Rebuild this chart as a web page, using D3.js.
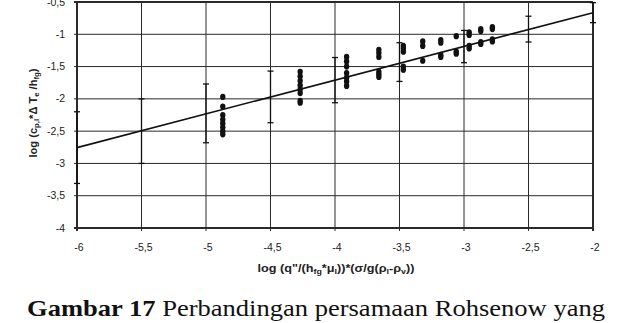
<!DOCTYPE html>
<html lang="id">
<head>
  <meta charset="UTF-8">
  <title>Gambar 17 Rohsenow</title>
  <script src="https://cdn.jsdelivr.net/npm/d3@7"></script>
  <style>
    body { margin: 0; background: #fff; }
    svg { display: block; }
    .tick-label { font-family: "Liberation Sans", Arial, sans-serif; font-size: 10.5px; fill: #222; }
    .axis-title { font-family: "Liberation Sans", Arial, sans-serif; font-size: 10px; font-weight: bold; fill: #222; }
    .caption { font-family: "Liberation Serif", "Times New Roman", serif; font-size: 23px; fill: #111; }
  </style>
</head>
<body>
  <svg width="635" height="323"></svg>
  <script>
    // data
    var xTicks = [-6, -5.5, -5, -4.5, -4, -3.5, -3, -2.5, -2];
    var xTickLabels = ["-6", "-5,5", "-5", "-4,5", "-4", "-3,5", "-3", "-2,5", "-2"];
    var yTicks = [-4, -3.5, -3, -2.5, -2, -1.5, -1, -0.5];
    var yTickLabels = ["-4", "-3,5", "-3", "-2,5", "-2", "-1,5", "-1", "-0,5"];

    // Rohsenow correlation line
    var lineX = [-6, -2];
    var lineY = [-2.755, -0.665];

    // error bars on the correlation
    var errX = [-6, -5.5, -5, -4.5, -4, -3.5, -3, -2.5, -2];
    var errHigh = [-2.2, -2.0, -1.77, -1.57, -1.36, -1.13, -0.94, -0.72, -0.51];
    var errLow = [-3.31, -3.0, -2.68, -2.37, -2.06, -1.73, -1.44, -1.12, -0.82];

    // measured points, one column per x
    var colX = [-4.87, -4.27, -3.91, -3.66, -3.47, -3.32, -3.18, -3.06, -2.96, -2.87, -2.78];
    var colY = [
      [-1.97, -2.12, -2.25, -2.32, -2.38, -2.44, -2.5, -2.55],
      [-1.58, -1.65, -1.72, -1.79, -1.85, -1.91, -2.03, -2.06],
      [-1.35, -1.42, -1.5, -1.6, -1.67, -1.73, -1.8],
      [-1.24, -1.29, -1.35, -1.58, -1.62, -1.66],
      [-1.18, -1.22, -1.27, -1.5, -1.55],
      [-1.11, -1.18, -1.41],
      [-1.09, -1.13, -1.32, -1.35],
      [-1.03, -1.27, -1.3],
      [-0.97, -1.01, -1.18, -1.22],
      [-0.92, -0.95, -1.12, -1.15],
      [-0.89, -0.92, -1.08, -1.11]
    ];

    var svg = d3.select("svg");
    var plotLeft = 77, plotRight = 593, plotTop = 2, plotBottom = 228;

    var x = d3.scaleLinear().domain([-6, -2]).range([plotLeft, plotRight]);
    var y = d3.scaleLinear().domain([-4, -0.5]).range([plotBottom, plotTop]);

    // grid
    svg.append("g").selectAll("line")
      .data(yTicks)
      .enter().append("line")
      .attr("x1", plotLeft - 3).attr("x2", plotRight)
      .attr("y1", function (d) { return y(d); })
      .attr("y2", function (d) { return y(d); })
      .attr("stroke", "#2a2a2a")
      .attr("stroke-width", function (d) { return (d === -4 || d === -0.5) ? 2 : 1; });

    svg.append("g").selectAll("line")
      .data(xTicks)
      .enter().append("line")
      .attr("x1", function (d) { return x(d); })
      .attr("x2", function (d) { return x(d); })
      .attr("y1", plotTop).attr("y2", plotBottom + 3)
      .attr("stroke", "#2a2a2a")
      .attr("stroke-width", function (d) { return (d === -6 || d === -2) ? 2 : 1; });

    // tick labels
    svg.append("g").selectAll("text")
      .data(yTicks)
      .enter().append("text")
      .attr("class", "tick-label")
      .attr("x", plotLeft - 12)
      .attr("y", function (d) { return y(d) + 3.5; })
      .attr("text-anchor", "end")
      .text(function (d, i) { return yTickLabels[i]; });

    svg.append("g").selectAll("text")
      .data(xTicks)
      .enter().append("text")
      .attr("class", "tick-label")
      .attr("x", function (d) { return x(d) + 2; })
      .attr("y", 251)
      .attr("text-anchor", "middle")
      .text(function (d, i) { return xTickLabels[i]; });

    // error bars
    var eb = svg.append("g").selectAll("g")
      .data(errX)
      .enter().append("g");
    eb.append("line")
      .attr("x1", function (d) { return x(d); })
      .attr("x2", function (d) { return x(d); })
      .attr("y1", function (d, i) { return y(errHigh[i]); })
      .attr("y2", function (d, i) { return y(errLow[i]); })
      .attr("stroke", "#111").attr("stroke-width", 1.3);
    eb.append("line")
      .attr("x1", function (d) { return x(d) - 3; })
      .attr("x2", function (d) { return x(d) + 3; })
      .attr("y1", function (d, i) { return y(errHigh[i]); })
      .attr("y2", function (d, i) { return y(errHigh[i]); })
      .attr("stroke", "#111").attr("stroke-width", 1.3);
    eb.append("line")
      .attr("x1", function (d) { return x(d) - 3; })
      .attr("x2", function (d) { return x(d) + 3; })
      .attr("y1", function (d, i) { return y(errLow[i]); })
      .attr("y2", function (d, i) { return y(errLow[i]); })
      .attr("stroke", "#111").attr("stroke-width", 1.3);

    // correlation line
    var linePts = lineX.map(function (d, i) { return [d, lineY[i]]; });
    svg.append("path")
      .datum(linePts)
      .attr("fill", "none")
      .attr("stroke", "#111")
      .attr("stroke-width", 1.6)
      .attr("d", d3.line()
        .x(function (d) { return x(d[0]); })
        .y(function (d) { return y(d[1]); }));

    // measured points
    var pts = [];
    colX.forEach(function (cx, i) {
      colY[i].forEach(function (v) { pts.push({ x: cx, y: v }); });
    });
    svg.append("g").selectAll("ellipse")
      .data(pts)
      .enter().append("ellipse")
      .attr("cx", function (d) { return x(d.x); })
      .attr("cy", function (d) { return y(d.y); })
      .attr("rx", 2.7)
      .attr("ry", 3.1)
      .attr("fill", "#111");

    // axis titles
    var yt = svg.append("text")
      .attr("class", "axis-title")
      .attr("transform", "translate(37,113) rotate(-90)")
      .attr("text-anchor", "middle")
      .attr("textLength", 89)
      .attr("lengthAdjust", "spacingAndGlyphs");
    yt.append("tspan").text("log (c");
    yt.append("tspan").attr("dy", 2).attr("font-size", "7px").text("p,l");
    yt.append("tspan").attr("dy", -2).text("*\u0394 T");
    yt.append("tspan").attr("dy", 2).attr("font-size", "7px").text("e");
    yt.append("tspan").attr("dy", -2).text(" /h");
    yt.append("tspan").attr("dy", 2).attr("font-size", "7px").text("fg");
    yt.append("tspan").attr("dy", -2).text(")");

    var xt = svg.append("text")
      .attr("class", "axis-title")
      .attr("x", 336)
      .attr("y", 272)
      .attr("text-anchor", "middle")
      .attr("textLength", 157)
      .attr("lengthAdjust", "spacingAndGlyphs");
    xt.append("tspan").text("log (q\"/(h");
    xt.append("tspan").attr("dy", 2).attr("font-size", "7px").text("fg");
    xt.append("tspan").attr("dy", -2).text("*\u03bc");
    xt.append("tspan").attr("dy", 2).attr("font-size", "7px").text("l");
    xt.append("tspan").attr("dy", -2).text("))*(\u03c3/g(\u03c1");
    xt.append("tspan").attr("dy", 2).attr("font-size", "7px").text("l");
    xt.append("tspan").attr("dy", -2).text("-\u03c1");
    xt.append("tspan").attr("dy", 2).attr("font-size", "7px").text("v");
    xt.append("tspan").attr("dy", -2).text("))");

    // caption
    var cap = svg.append("text")
      .attr("class", "caption")
      .attr("x", 27)
      .attr("y", 316)
      .attr("textLength", 578)
      .attr("lengthAdjust", "spacingAndGlyphs");
    cap.append("tspan").attr("font-weight", "bold").text("Gambar 17");
    cap.append("tspan").text(" Perbandingan persamaan Rohsenow yang");
  </script>
</body>
</html>
